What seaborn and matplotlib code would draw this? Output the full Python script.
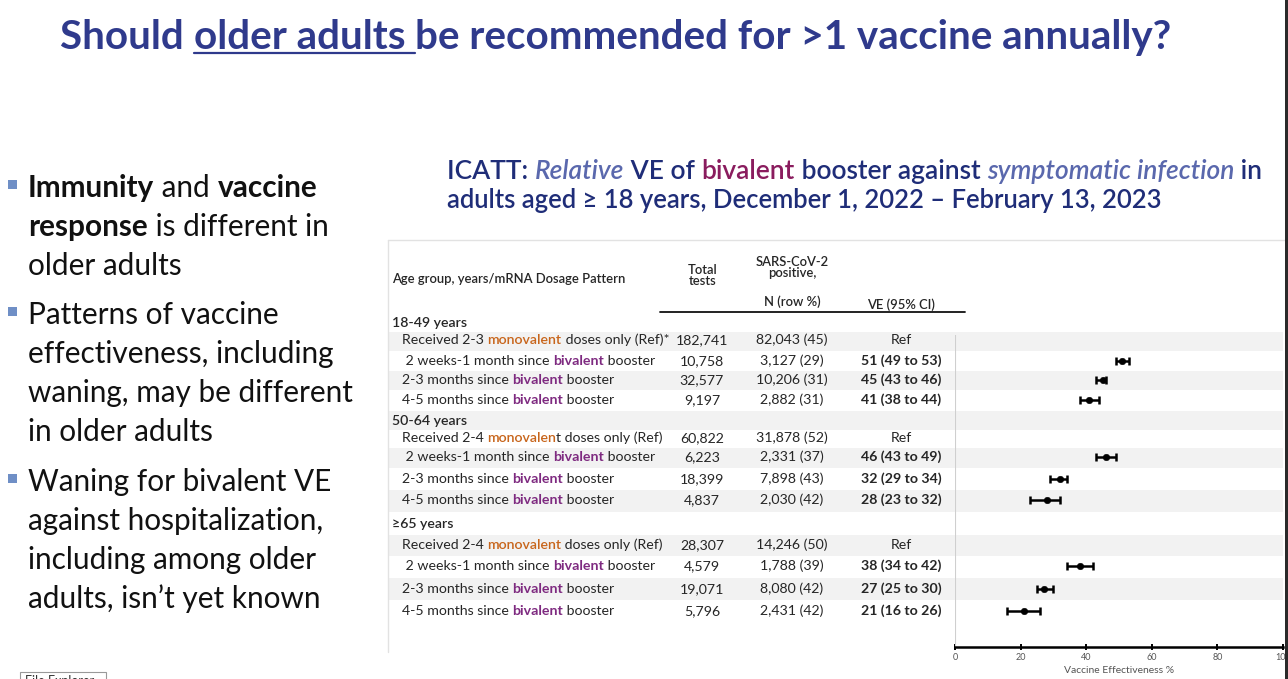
import matplotlib
matplotlib.use("Agg")
import matplotlib.pyplot as plt
from matplotlib.patches import Rectangle
from matplotlib.lines import Line2D
from matplotlib.transforms import IdentityTransform
import numpy as np
import pandas as pd
import seaborn as sns

# ---------------- data ----------------
age_groups = ["18-49 years", "50-64 years", "≥65 years"]
ref_labels = ["Received 2-3 monovalent doses only (Ref)*",
              "Received 2-4 monovalent doses only (Ref)",
              "Received 2-4 monovalent doses only (Ref)"]
ref_highlight = ["monovalent", "monovalen", "monovalent"]
intervals = [" 2 weeks-1 month", "2-3 months", "4-5 months"]

total_tests = [[182741, 10758, 32577, 9197],
               [60822, 6223, 18399, 4837],
               [28307, 4579, 19071, 5796]]
positives = [[82043, 3127, 10206, 2882],
             [31878, 2331, 7898, 2030],
             [14246, 1788, 8080, 2431]]
row_pct = [[45, 29, 31, 31],
           [52, 37, 43, 42],
           [50, 39, 42, 42]]
ve = [[51, 45, 41], [46, 32, 28], [38, 27, 21]]
ve_lo = [[49, 43, 38], [43, 29, 23], [34, 25, 16]]
ve_hi = [[53, 46, 44], [49, 34, 32], [42, 30, 26]]

# ---------------- layout ----------------
W, H = 1288, 679
row_gaps = [17, 21, 19, 20, 21, 17, 19, 22, 21, 24, 21, 21, 23, 22]
row_pos = np.concatenate([[0], np.cumsum(row_gaps)])
y_bottom, y_top = 324, -12

sns.set_style("white")
plt.rcParams["font.family"] = ["Lato", "DejaVu Sans"]
FAM = ["Lato", "DejaVu Sans"]

fig = plt.figure(figsize=(W / 100, H / 100), dpi=100)
fig.patch.set_facecolor("white")
renderer = fig.canvas.get_renderer()
PX = IdentityTransform()


def advance(txt, size, **kw):
    a = fig.text(0, 0, txt + "x", fontsize=size, family=FAM, **kw)
    b = fig.text(0, 0, "x", fontsize=size, family=FAM, **kw)
    w = a.get_window_extent(renderer).width - b.get_window_extent(renderer).width
    a.remove()
    b.remove()
    return w


def rich(x, y, segs, size, ha="left"):
    widths = [advance(t, size, **st) for t, st in segs]
    total = sum(widths)
    if ha == "center":
        x -= total / 2
    elif ha == "right":
        x -= total
    spans = []
    for (t, st), w in zip(segs, widths):
        fig.text(x, H - y, t, transform=PX, fontsize=size, family=FAM,
                 va="baseline", ha="left", **st)
        spans.append((x, w))
        x += w
    return spans


def fit(segs, target, base=20):
    return base * target / sum(advance(t, base, **st) for t, st in segs)


# ---------------- title ----------------
title_c = "#2f3a8c"
TB = dict(color=title_c, fontweight="bold")
title_segs = [("Should ", TB), ("older adults ", TB),
              ("be recommended for >1 vaccine annually?", TB)]
ts = fit(title_segs, 1112)
spans = rich(60, 49, title_segs, ts)
ux, uw = spans[1]
fig.add_artist(Line2D([ux, ux + uw], [H - 53, H - 53], transform=PX,
                      color=title_c, lw=1.6))

# ---------------- subtitle ----------------
navy, slate, plum = "#1f2d78", "#5a68ad", "#8a1c5e"
N = dict(color=navy, fontweight="semibold")
I = dict(color=slate, style="italic", fontweight="semibold")
P = dict(color=plum, fontweight="semibold")
sub1 = [("ICATT: ", N), ("Relative", I), (" VE of ", N), ("bivalent", P),
        (" booster against ", N), ("symptomatic infection", I), (" in", N)]
sub2 = [("adults aged ≥ 18 years, December 1, 2022 – February 13, 2023", N)]
rich(447, 179, sub1, fit(sub1, 815))
rich(447, 208, sub2, fit(sub2, 713))

# ---------------- bullets ----------------
K = dict(color="#111111")
KB = dict(color="#111111", fontweight="bold")
bullet_lines = [
    (197, [("Immunity", KB), (" and ", K), ("vaccine", KB)]),
    (236, [("response", KB), (" is different in", K)]),
    (275, [("older adults", K)]),
    (324, [("Patterns of vaccine", K)]),
    (363, [("effectiveness, including", K)]),
    (402, [("waning, may be different", K)]),
    (441, [("in older adults", K)]),
    (491, [("Waning for bivalent VE", K)]),
    (530, [("against hospitalization,", K)]),
    (569, [("including among older", K)]),
    (608, [("adults, isn\u2019t yet known", K)]),
]
bs = fit([("waning, may be different", K)], 326)
for yb, segs in bullet_lines:
    rich(28, yb, segs, bs)
for yb in (197, 324, 491):
    fig.add_artist(Rectangle((8, H - yb + 8), 9, 9, transform=PX,
                             facecolor="#6f8fc6", edgecolor="none"))

# ---------------- table background ----------------
fig.add_artist(Line2D([388, 1288], [H - 240, H - 240], transform=PX,
                      color="#e2e2e2", lw=1))
fig.add_artist(Line2D([388, 388], [H - 240, H - 652], transform=PX,
                      color="#e2e2e2", lw=1))
ax_bg = fig.add_axes([388 / W, 32 / H, (1283 - 388) / W, 336 / H])
ax_bg.set_xlim(0, 1)
ax_bg.set_ylim(y_bottom, y_top)
ax_bg.axis("off")
mids = np.concatenate([[row_pos[0] - 9], (row_pos[:-1] + row_pos[1:]) / 2,
                       [row_pos[-1] + 11]])
for i in range(1, len(row_pos), 2):
    ax_bg.axhspan(mids[i], mids[i + 1], color="#f2f2f2", lw=0)


def row_y(pos):
    return H - ax_bg.transData.transform((0, pos))[1]


# ---------------- table text ----------------
txt_c = "#262626"
R = dict(color=txt_c)
RB = dict(color=txt_c, fontweight="bold")
HS = dict(color=txt_c, fontweight="semibold")
ORG = dict(color="#c8651b", fontweight="semibold")
PUR = dict(color="#7e2a80", fontweight="bold")

tsz = fit([("Received 2-3 ", R), ("monovalent", ORG), (" doses only (Ref)*", R)], 268)
hsz = tsz * 0.92

rich(392, 283, [("Age group, years/mRNA Dosage Pattern", HS)], hsz)
rich(703, 274, [("Total", HS)], hsz, ha="center")
rich(703, 285, [("tests", HS)], hsz, ha="center")
rich(792, 266, [("SARS-CoV-2", HS)], hsz, ha="center")
rich(792, 277, [("positive,", HS)], hsz, ha="center")
rich(792, 306, [("N (row %)", HS)], hsz, ha="center")
rich(901, 309, [("VE (95% CI)", HS)], hsz, ha="center")
fig.add_artist(Line2D([660, 965], [H - 312, H - 312], transform=PX,
                      color="#111111", lw=1.3))

COL_TOT, COL_POS, COL_VE = 702, 792, 901
forest_rows = []
for g, grp in enumerate(age_groups):
    base = 5 * g
    rich(392, row_y(row_pos[base]) + 4, [(grp, HS)], tsz)
    # reference row
    lab, hl = ref_labels[g], ref_highlight[g]
    pre, post = lab.split(hl, 1)
    yb = row_y(row_pos[base + 1]) + 4
    rich(402, yb, [(pre, R), (hl, ORG), (post, R)], tsz)
    rich(COL_TOT, yb, [(f"{total_tests[g][0]:,}", R)], tsz, ha="center")
    rich(COL_POS, yb, [(f"{positives[g][0]:,} ({row_pct[g][0]})", R)], tsz, ha="center")
    rich(COL_VE, yb, [("Ref", R)], tsz, ha="center")
    for k, iv in enumerate(intervals):
        yb = row_y(row_pos[base + 2 + k]) + 4
        rich(402, yb, [(iv + " since ", R), ("bivalent", PUR), (" booster", R)], tsz)
        rich(COL_TOT, yb, [(f"{total_tests[g][k + 1]:,}", R)], tsz, ha="center")
        rich(COL_POS, yb, [(f"{positives[g][k + 1]:,} ({row_pct[g][k + 1]})", R)],
             tsz, ha="center")
        rich(COL_VE, yb, [(f"{ve[g][k]} ({ve_lo[g][k]} to {ve_hi[g][k]})", RB)],
             tsz, ha="center")
        forest_rows.append(dict(pos=row_pos[base + 2 + k], ve=ve[g][k],
                                lo=ve_lo[g][k], hi=ve_hi[g][k]))

df = pd.DataFrame(forest_rows)

# ---------------- forest plot ----------------
ax_f = fig.add_axes([955 / W, 32 / H, 328 / W, 336 / H])
ax_f.patch.set_alpha(0)
ax_f.set_xlim(0, 100)
ax_f.set_ylim(y_bottom, y_top)
ax_f.vlines(0, 12, y_bottom, color="#cfcfcf", lw=1.5)
ax_f.errorbar(df["ve"], df["pos"], xerr=[df["ve"] - df["lo"], df["hi"] - df["ve"]],
              fmt="none", ecolor="black", elinewidth=1.8, capsize=2.6, capthick=1.8,
              zorder=3)
sns.scatterplot(data=df, x="ve", y="pos", ax=ax_f, color="black", s=22,
                edgecolor="black", zorder=4, legend=False)
ax_f.set_ylim(y_bottom, y_top)
for s in ("left", "top", "right"):
    ax_f.spines[s].set_visible(False)
ax_f.spines["bottom"].set_color("black")
ax_f.spines["bottom"].set_linewidth(1.8)
ax_f.set_xticks([0, 20, 40, 60, 80, 100])
ax_f.set_yticks([])
ax_f.tick_params(axis="x", direction="inout", length=5, width=1.4, color="black",
                 labelsize=6.5, labelcolor="#555555", pad=2, bottom=True)
ax_f.set_xlabel("Vaccine Effectiveness %", fontsize=7.5, color="#555555", labelpad=3)
ax_f.set_ylabel("")

# ---------------- screen edges ----------------
fig.add_artist(Rectangle((20, H - 692), 86, 20, transform=PX,
                         facecolor="white", edgecolor="#999999", lw=0.8))
fig.text(25, H - 675, "File Explorer", transform=PX, fontsize=9, color="#333333",
         va="top", family=FAM)
fig.add_artist(Rectangle((1285, 0), 4, H, transform=PX, facecolor="#2a2a2a",
                         edgecolor="none", zorder=10))

fig.savefig("out.png", dpi=100)
